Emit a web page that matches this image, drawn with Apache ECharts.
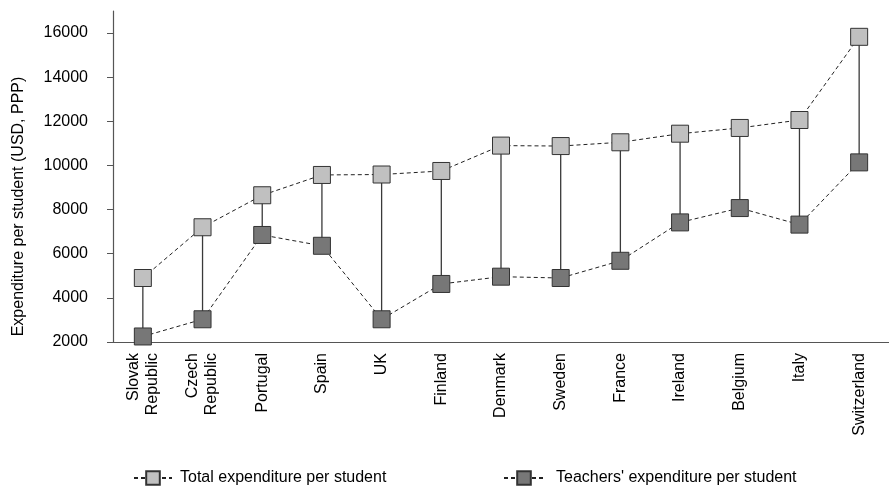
<!DOCTYPE html>
<html>
<head>
<meta charset="utf-8">
<script src="https://cdn.jsdelivr.net/npm/echarts@6/dist/echarts.min.js"></script>
<style>
html,body{margin:0;padding:0;background:#fff;}
#chart{width:889px;height:486px;}
</style>
</head>
<body>
<div id="chart"></div>
<script>
var categories = ['Slovak\nRepublic','Czech\nRepublic','Portugal','Spain','UK','Finland','Denmark','Sweden','France','Ireland','Belgium','Italy','Switzerland'];
var totalExpenditure = [4900, 7200, 8650, 9570, 9590, 9750, 10900, 10880, 11050, 11440, 11700, 12060, 15830];
var teachersExpenditure = [2250, 3030, 6850, 6360, 3030, 4630, 4960, 4900, 5680, 7420, 8070, 7320, 10140];
var yTickValues = [2000, 4000, 6000, 8000, 10000, 12000, 14000, 16000];
var seriesNames = ['Total expenditure per student', "Teachers' expenditure per student"];

var FONT = 'Liberation Sans, Arial, sans-serif';
var chart = echarts.init(document.getElementById('chart'), null, {renderer: 'canvas'});

var connectorData = categories.map(function (c, i) {
  return [i, totalExpenditure[i], teachersExpenditure[i]];
});

var option = {
  animation: false,
  backgroundColor: '#fff',
  textStyle: {fontFamily: FONT},
  grid: {left: 113, right: -11, top: 11, bottom: 144, containLabel: false},
  legend: [
    {
      data: [seriesNames[0]],
      left: 133, top: 470, padding: 0,
      itemWidth: 38, itemHeight: 17,
      textStyle: {fontFamily: FONT, fontSize: 16, color: '#000', padding: [0, 0, 0, 3]}
    },
    {
      data: [seriesNames[1]],
      left: 503, top: 470, padding: 0,
      itemWidth: 40, itemHeight: 17,
      textStyle: {fontFamily: FONT, fontSize: 16, color: '#000', padding: [0, 0, 0, 7]}
    }
  ],
  xAxis: {
    type: 'category',
    data: categories,
    boundaryGap: true,
    axisLine: {lineStyle: {color: '#555', width: 1.2}},
    axisTick: {show: false},
    axisLabel: {
      rotate: 90, interval: 0, margin: 11,
      fontFamily: FONT, fontSize: 16, color: '#000', lineHeight: 19
    },
    splitLine: {show: false}
  },
  yAxis: {
    type: 'value',
    min: 2000, max: 17000,
    name: 'Expenditure per student (USD, PPP)',
    nameLocation: 'middle',
    nameGap: 86,
    nameTextStyle: {fontFamily: FONT, fontSize: 16, color: '#000', padding: [0, 60, 0, 0]},
    axisLine: {show: true, lineStyle: {color: '#555', width: 1.2}},
    axisTick: {show: true, length: 6, customValues: yTickValues, lineStyle: {color: '#555'}},
    axisLabel: {
      customValues: yTickValues,
      margin: 25,
      fontFamily: FONT, fontSize: 16, color: '#000',
      formatter: function (v) { return String(v); }
    },
    splitLine: {show: false}
  },
  series: [
    {
      type: 'custom',
      name: 'connector',
      z: 1,
      silent: true,
      data: connectorData,
      encode: {x: 0, y: [1, 2]},
      renderItem: function (params, api) {
        var p1 = api.coord([api.value(0), api.value(1)]);
        var p2 = api.coord([api.value(0), api.value(2)]);
        return {
          type: 'line',
          shape: {x1: p1[0], y1: p1[1], x2: p2[0], y2: p2[1]},
          style: {stroke: '#3a3a3a', lineWidth: 1.3}
        };
      }
    },
    {
      type: 'line',
      name: seriesNames[0],
      z: 3,
      data: totalExpenditure,
      symbol: 'rect',
      symbolSize: 17,
      showAllSymbol: true,
      lineStyle: {color: '#222', width: 1, type: [4, 3]},
      itemStyle: {color: '#c0c0c0', borderColor: '#333', borderWidth: 1}
    },
    {
      type: 'line',
      name: seriesNames[1],
      z: 2,
      data: teachersExpenditure,
      symbol: 'rect',
      symbolSize: 17,
      showAllSymbol: true,
      lineStyle: {color: '#222', width: 1, type: [4, 3]},
      itemStyle: {color: '#777777', borderColor: '#333', borderWidth: 1}
    }
  ]
};
chart.setOption(option);
</script>
</body>
</html>
